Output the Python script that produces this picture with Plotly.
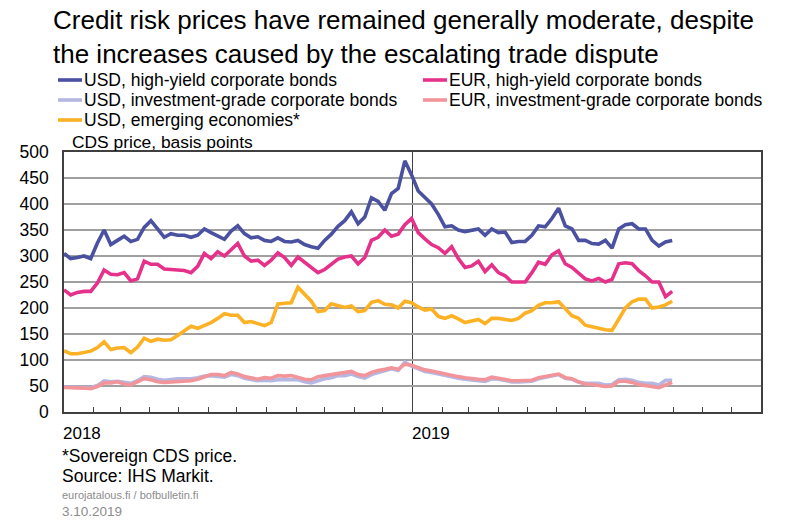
import pandas as pd
import plotly.graph_objects as go

# weekly observation dates (Mondays), Jan 2018 - end Sep 2019
dates = pd.date_range("2018-01-01", periods=92, freq="7D")

usd_hy = [305, 295, 297, 300, 295, 325, 350, 322, 330, 338, 328, 332, 355, 368, 352, 336,
          343, 340, 340, 336, 340, 352, 345, 338, 332, 348, 358, 343, 335, 337, 330, 328,
          335, 328, 327, 330, 322, 318, 315, 330, 342, 357, 368, 385, 362, 375, 412, 405,
          388, 420, 430, 483, 456, 425, 412, 400, 380, 356, 358, 350, 347, 350, 352, 340,
          352, 345, 346, 326, 328, 328, 340, 358, 356, 372, 392, 358, 352, 330, 330, 324,
          323, 330, 315, 352, 360, 362, 352, 352, 330, 319, 327, 330]

eur_hy = [235, 225, 230, 232, 232, 248, 273, 265, 264, 268, 252, 256, 290, 284, 284, 275,
          274, 273, 272, 268, 280, 305, 295, 308, 300, 312, 324, 300, 290, 292, 282, 292,
          306, 297, 282, 298, 288, 278, 268, 274, 285, 294, 298, 300, 285, 297, 330, 336,
          350, 338, 342, 360, 372, 345, 333, 322, 316, 305, 318, 295, 278, 281, 290, 270,
          283, 268, 262, 250, 250, 250, 268, 288, 284, 302, 310, 285, 278, 268, 256, 252,
          257, 250, 255, 285, 287, 285, 272, 262, 250, 250, 222, 232]

usd_ig = [48, 48, 47, 47, 47, 51, 60, 58, 59, 57, 55, 60, 68, 67, 63, 61,
          63, 64, 64, 64, 66, 69, 70, 69, 67, 72, 70, 65, 63, 60, 61, 60,
          62, 62, 63, 62, 58, 56, 60, 64, 66, 70, 70, 73, 68, 65, 72, 76,
          79, 83, 80, 96, 88, 83, 78, 76, 73, 70, 67, 65, 63, 61, 60, 59,
          64, 63, 61, 58, 58, 58, 59, 64, 67, 69, 72, 65, 63, 57, 55, 55,
          55, 52, 53, 62, 63, 61, 57, 55, 55, 52, 61, 61]

eur_ig = [47, 47, 46, 46, 45, 49, 56, 56, 58, 54, 52, 58, 64, 62, 58, 57,
          58, 59, 59, 60, 63, 68, 72, 72, 70, 76, 73, 68, 66, 63, 66, 65,
          70, 69, 70, 67, 63, 62, 68, 70, 72, 75, 76, 78, 72, 70, 76, 80,
          82, 85, 82, 92, 90, 85, 81, 79, 76, 73, 70, 68, 66, 64, 63, 62,
          67, 65, 63, 60, 60, 60, 61, 66, 68, 70, 73, 66, 64, 58, 54, 53,
          51, 49, 50, 59, 59, 57, 53, 51, 50, 47, 52, 57]

usd_em = [118, 112, 112, 115, 117, 124, 135, 120, 123, 124, 114, 125, 142, 136, 140, 138,
          139, 147, 157, 165, 161, 167, 172, 180, 189, 186, 186, 172, 174, 170, 166, 172,
          208, 209, 210, 240, 227, 213, 193, 195, 208, 205, 201, 204, 193, 195, 211, 214,
          207, 206, 200, 213, 210, 202, 196, 198, 184, 180, 185, 179, 172, 175, 178, 170,
          180, 180, 178, 176, 180, 190, 195, 205, 210, 210, 212, 198, 185, 180, 167, 164,
          161, 158, 157, 178, 200, 212, 217, 217, 200, 202, 206, 213]

series_names = ["USD, high-yield corporate bonds", "EUR, high-yield corporate bonds",
                "USD, investment-grade corporate bonds", "EUR, investment-grade corporate bonds",
                "USD, emerging economies*"]
series_values = [usd_hy, eur_hy, usd_ig, eur_ig, usd_em]
series_colors = ["#4B51A1", "#E6318B", "#B4B7E2", "#F2959B", "#FDB124"]

title_lines = ["Credit risk prices have remained generally moderate, despite",
               "the increases caused by the escalating trade dispute"]
year_labels = ["2018", "2019"]
year_dates = ["2018-01-01", "2019-01-01"]
y_ticks = [0, 50, 100, 150, 200, 250, 300, 350, 400, 450, 500]

FONT = "Arial, Liberation Sans, sans-serif"
W, H = 801, 523
L, R, T, B = 64, 40, 152, 111
PW, PH = W - L - R, H - T - B


def px_x(px):
    return (px - L) / PW


def px_y(py):
    return (H - B - py) / PH


fig = go.Figure()
for i in range(len(series_values)):
    fig.add_trace(go.Scatter(x=dates, y=series_values[i], mode="lines", name=series_names[i],
                             line=dict(color=series_colors[i], width=3.6), showlegend=False,
                             hoverinfo="skip"))

annotations = []
# two-line title as one text block
annotations.append(dict(text="<br>".join(title_lines), x=px_x(51), y=px_y(37), xref="paper",
                        yref="paper", xanchor="left", yanchor="middle", align="left",
                        showarrow=False, font=dict(size=26, color="black", family=FONT)))

shapes = []
legend_pos = [(58, 80), (423, 80), (58, 100), (423, 100), (58, 120)]
for i, (lx, ly) in enumerate(legend_pos):
    shapes.append(dict(type="line", xref="paper", yref="paper", x0=px_x(lx), x1=px_x(lx + 24),
                       y0=px_y(ly), y1=px_y(ly), line=dict(color=series_colors[i], width=3.6)))
    annotations.append(dict(text=series_names[i], x=px_x(lx + 24), y=px_y(ly), xref="paper",
                            yref="paper", xanchor="left", yanchor="middle", showarrow=False,
                            font=dict(size=17.5, color="black", family=FONT)))

annotations.append(dict(text="CDS price, basis points", x=px_x(70), y=px_y(142), xref="paper",
                        yref="paper", xanchor="left", yanchor="middle", showarrow=False,
                        font=dict(size=17.4, color="black", family=FONT)))

for lab, d in zip(year_labels, year_dates):
    annotations.append(dict(text=lab, x=d, y=px_y(433), xref="x", yref="paper", xanchor="left",
                            yanchor="middle", showarrow=False, xshift=-3,
                            font=dict(size=17, color="black", family=FONT)))

footer = [("*Sovereign CDS price.", 456, 17.5, "black"), ("Source: IHS Markit.", 476, 17.5, "black"),
          ("eurojatalous.fi / bofbulletin.fi", 495, 11, "#8c8c8c"), ("3.10.2019", 511, 13.5, "#8c8c8c")]
for txt, fy, fs, col in footer:
    annotations.append(dict(text=txt, x=px_x(60), y=px_y(fy), xref="paper", yref="paper",
                            xanchor="left", yanchor="middle", showarrow=False,
                            font=dict(size=fs, color=col, family=FONT)))

# vertical year divider
shapes.append(dict(type="line", xref="x", yref="paper", x0=year_dates[1], x1=year_dates[1],
                   y0=0, y1=1, line=dict(color="#404040", width=1), layer="below"))

fig.update_layout(
    width=W, height=H, margin=dict(l=L, r=R, t=T, b=B),
    paper_bgcolor="white", plot_bgcolor="white",
    font=dict(family=FONT, size=16, color="black"),
    annotations=annotations, shapes=shapes, showlegend=False,
    xaxis=dict(type="date", range=["2018-01-01", "2020-01-01"], showgrid=False,
               ticks="inside", dtick="M1", tick0="2018-01-01", ticklen=5, tickcolor="#404040",
               showticklabels=False, showline=True, linecolor="#404040", linewidth=1.5,
               mirror=True, zeroline=False),
    yaxis=dict(range=[0, 500], tickvals=y_ticks, showgrid=True, gridcolor="#a0a0a0",
               gridwidth=1.5, showline=True, linecolor="#404040", linewidth=1.5, mirror=True,
               ticks="", ticklabelstandoff=10, zeroline=False,
               tickfont=dict(size=17.5, color="black", family=FONT)),
)

fig.write_html("out.html", config={"displayModeBar": False},
               post_script="document.body.style.margin='0';")
